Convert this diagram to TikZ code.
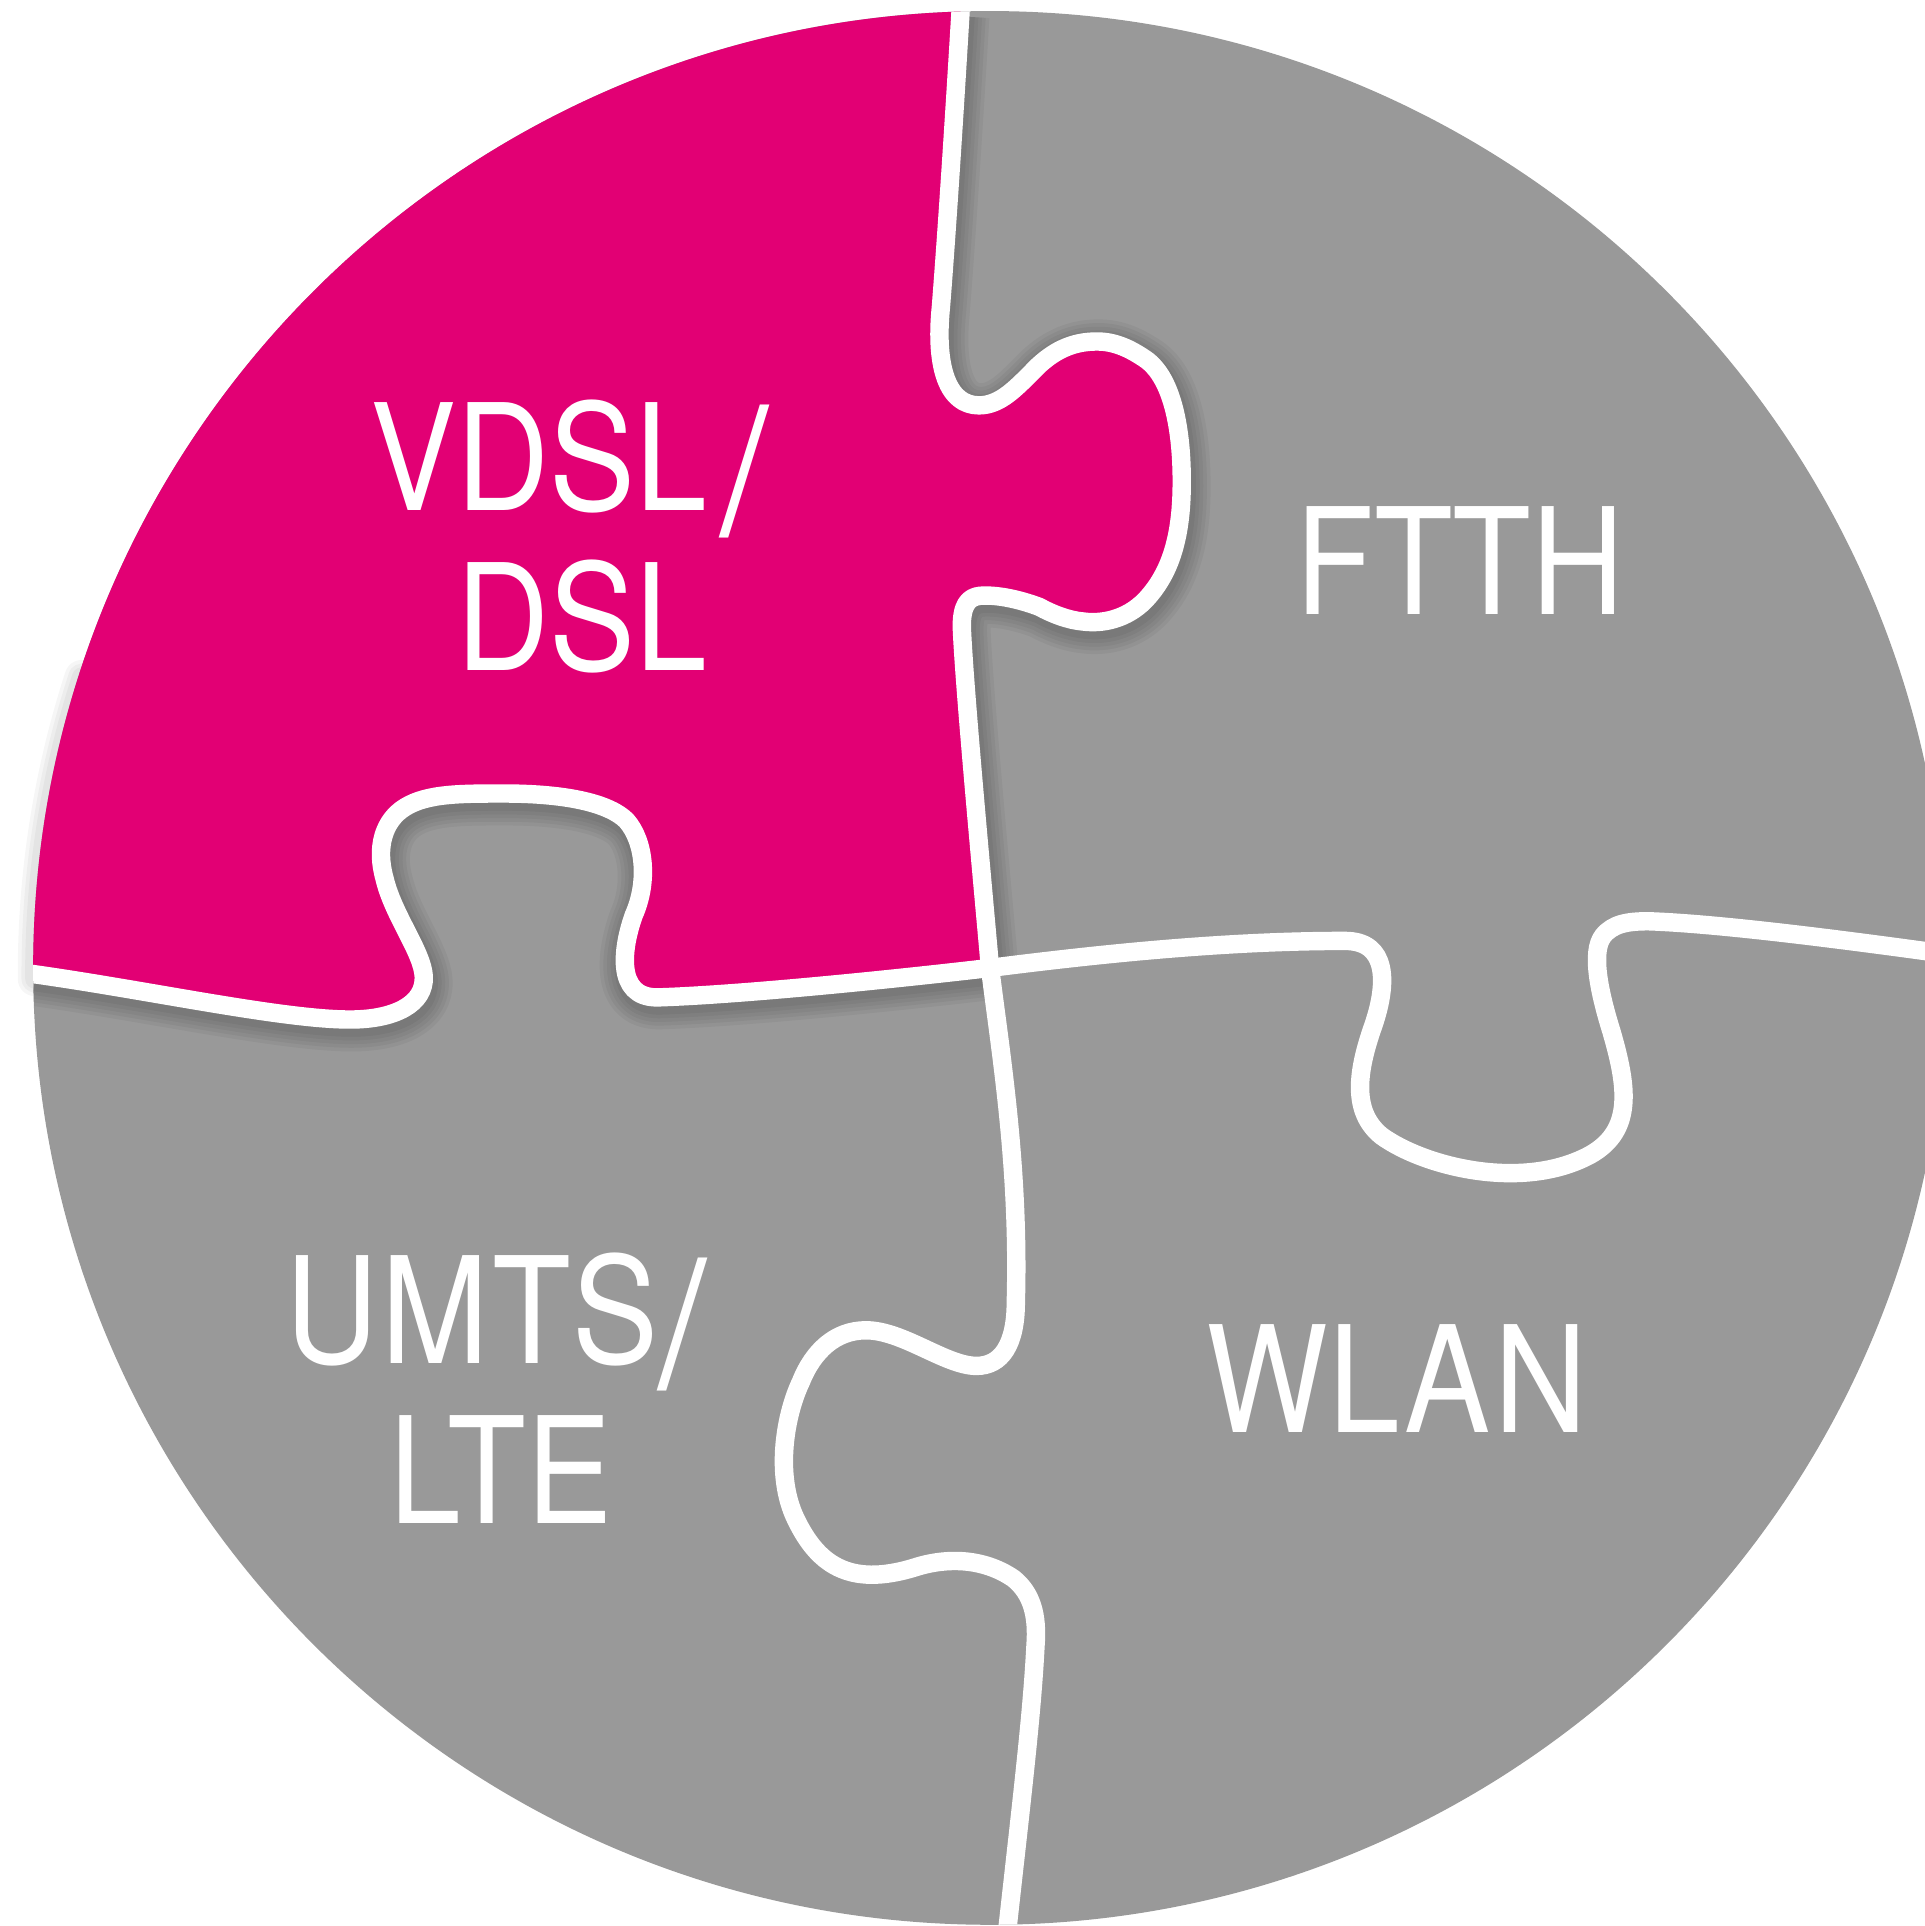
\documentclass[tikz,border=0pt]{standalone}
\usepackage{fontspec}
\usepackage{graphicx}
\newfontfamily\lab{TeX Gyre Heros}[FakeStretch=0.87]
\newcommand\tallslash{\smash{\raisebox{-5.5pt}{\scalebox{1.35}[1.2]{/}}}}
\definecolor{tmag}{HTML}{E20074}
\definecolor{pgray}{HTML}{999999}
\tikzset{
  seamline/.style={draw=white, line width=1.5mm, line join=round},
  lbl/.style={anchor=base west, inner sep=0pt, outer sep=0pt, text=white,
    font=\lab\fontsize{34.3pt}{40pt}\selectfont},
  seamTj/.style={insert path={-- (782,9.4) .. controls (776,110) and (770,200) .. (766,250)
     .. controls (761,300) and (772,330) .. (797,330)
     .. controls (815,330) and (828,315) .. (845,298)
     .. controls (860,284) and (875,278) .. (893,278)
     .. controls (908,278) and (920,284) .. (932,292)
     .. controls (956,308) and (963,355) .. (962,400)
     .. controls (961,440) and (952,468) .. (932,489)
     .. controls (917,504) and (898,508) .. (882,506)
     .. controls (870,505) and (857,500) .. (846,494)
     .. controls (830,488) and (812,484) .. (798,485)
     .. controls (788,486) and (783,493) .. (783,510)
     .. controls (785,560) and (800,720) .. (806,788)}},
  seamLj/.style={insert path={-- (27,793) .. controls (120,806) and (230,830) .. (285,830)
     .. controls (322,830) and (346,817) .. (345,795)
     .. controls (344,775) and (320,745) .. (313,715)
     .. controls (306,690) and (312,668) .. (330,657)
     .. controls (348,646) and (375,646) .. (410,646)
     .. controls (465,646) and (497,655) .. (510,668)
     .. controls (525,685) and (528,718) .. (516,745)
     .. controls (507,770) and (500,812) .. (535,812)
     .. controls (600,810) and (720,798) .. (806,788)}},
  seamLrevj/.style={insert path={-- (806,788) .. controls (720,798) and (600,810) .. (535,812)
     .. controls (500,812) and (507,770) .. (516,745)
     .. controls (528,718) and (525,685) .. (510,668)
     .. controls (497,655) and (465,646) .. (410,646)
     .. controls (375,646) and (348,646) .. (330,657)
     .. controls (312,668) and (306,690) .. (313,715)
     .. controls (320,745) and (344,775) .. (345,795)
     .. controls (346,817) and (322,830) .. (285,830)
     .. controls (230,830) and (120,806) .. (27,793)}},
  seamRj/.style={insert path={-- (806,788) .. controls (900,776) and (1000,766) .. (1095,766)
     .. controls (1130,766) and (1130,800) .. (1118,835)
     .. controls (1105,872) and (1100,905) .. (1125,925)
     .. controls (1160,950) and (1240,970) .. (1295,940)
     .. controls (1330,920) and (1325,885) .. (1312,840)
     .. controls (1302,808) and (1295,775) .. (1305,762)
     .. controls (1313,752) and (1325,750) .. (1342,750)
     .. controls (1400,752) and (1500,765) .. (1580,776)}},
  seamBj/.style={insert path={-- (806,788) .. controls (815,860) and (830,950) .. (827,1060)
     .. controls (827,1095) and (815,1112) .. (795,1112)
     .. controls (770,1112) and (735,1083) .. (705,1083)
     .. controls (680,1083) and (662,1100) .. (652,1125)
     .. controls (640,1150) and (630,1200) .. (648,1237)
     .. controls (665,1272) and (690,1293) .. (745,1276)
     .. controls (770,1268) and (800,1268) .. (825,1285)
     .. controls (840,1297) and (845,1315) .. (843,1340)
     .. controls (840,1400) and (830,1480) .. (818,1590)}},
  shadowline/.style={draw=black, opacity=0.045, shift={(1.5,4)}, line join=round}
}
\begin{document}
\begin{tikzpicture}[x=0.1mm, y=-0.1mm]
\useasboundingbox (0,0) rectangle (1567,1568);
\fill[white] (0,0) rectangle (1567,1568);
\clip (0,0) rectangle (1567,1568);
% faint outer shadow along the lower left edge of the raised piece
\foreach \w in {1.6,2.2,2.8}
  \draw[shadowline, opacity=0.035, line cap=round, line width=\w mm]
    (27,793) arc[start angle=179.63, end angle=198, radius=779];
% grey disc
\fill[pgray] (806,788) circle[radius=779];
\begin{scope}
  \clip (806,788) circle[radius=779];
  % shadow of the magenta piece
  \foreach \w in {2.0,2.6,3.2,3.8,4.4}
    \draw[shadowline, line width=\w mm] (27,793) [seamLj] (782,9.4) [seamTj];
  % magenta piece
  \fill[tmag] (27,793) arc[start angle=179.63, end angle=268.23, radius=779] [seamTj] [seamLrevj] -- cycle;
  % white seams
  \draw[seamline] (782,-20) [seamTj];
  \draw[seamline] (0,792) [seamLj];
  \draw[seamline] (806,788) [seamRj];
  \draw[seamline] (806,788) [seamBj];
\end{scope}
% labels
\node[lbl] (vdsl) at (302,416) {VDSL\kern3pt\tallslash};
\node[lbl] (dsl) at (371.6,546) {DSL};
\node[lbl] (ftth) at (1054.6,500) {FTTH};
\node[lbl] (umts) at (232.6,1110) {U\kern0.6pt M\kern0.9pt T\kern0.25pt S\tallslash};
\node[lbl] (lte) at (317,1240) {LTE};
\node[lbl] (wlan) at (982.5,1166) {WL\kern1.1pt A\kern0.9pt N};
\end{tikzpicture}
\end{document}
